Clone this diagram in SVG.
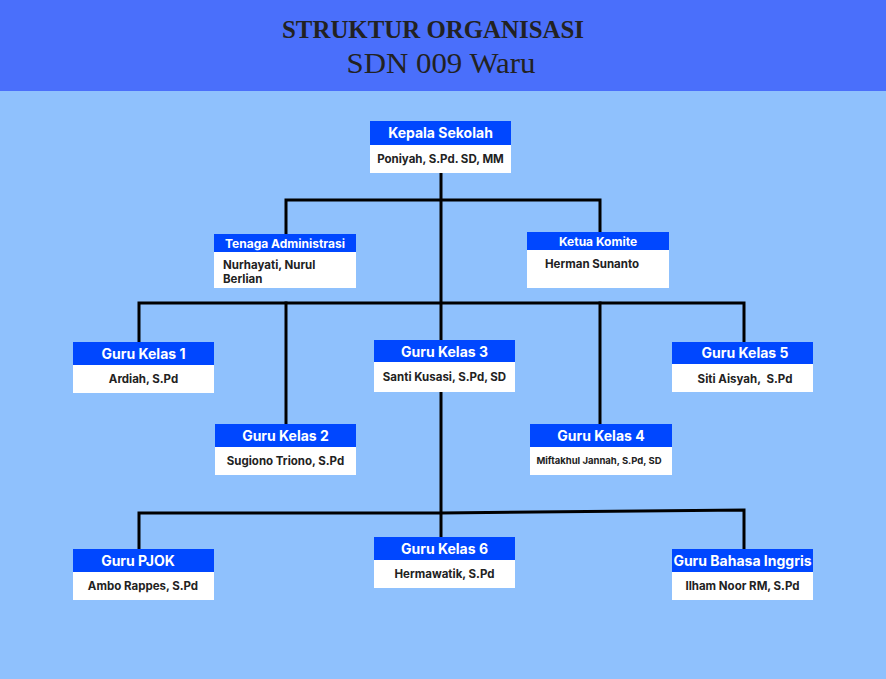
<svg xmlns="http://www.w3.org/2000/svg" width="886" height="679" viewBox="0 0 886 679">
<style>
.hd{fill:#0047FF}
.bd{fill:#FFFFFF}
.ht{font-family:Inter,"Liberation Sans",sans-serif;font-weight:700;font-size:14px;fill:#FFFFFF;text-anchor:middle}
.hs{font-size:12px}
.bt{font-family:Inter,"Liberation Sans",sans-serif;font-weight:700;font-size:11.5px;fill:#222222;text-anchor:middle}
.title{font-family:"Liberation Serif",serif;fill:#222222;text-anchor:middle}
.ln{stroke:#000000;stroke-width:3;fill:none;stroke-linecap:square}
</style>
<rect x="0" y="0" width="886" height="679" fill="#8FC1FD"/>
<rect x="0" y="0" width="886" height="91" fill="#4A6FFB"/>
<text class="title" x="433" y="38" font-size="25" font-weight="700" textLength="302" lengthAdjust="spacingAndGlyphs">STRUKTUR ORGANISASI</text>
<text class="title" x="441" y="73" font-size="30" textLength="189" lengthAdjust="spacingAndGlyphs">SDN 009 Waru</text>
<g id="connectors">
<path class="ln" d="M441 173 V340"/>
<path class="ln" d="M286 234 V200 H600 V232"/>
<path class="ln" d="M139 342 V303 H744 V342"/>
<path class="ln" d="M286 303 V424"/>
<path class="ln" d="M600 303 V424"/>
<path class="ln" d="M441 392 V537"/>
<path class="ln" d="M139 549 V513 H441 L744 510 V549"/>
</g>
<g id="kepala">
<rect class="hd" x="370" y="121" width="141" height="24"/><rect class="bd" x="370" y="145" width="141" height="28"/>
<text class="ht" x="440.5" y="138">Kepala Sekolah</text>
<text class="bt" x="440.5" y="163">Poniyah, S.Pd. SD, MM</text>
</g>
<g id="tenaga">
<rect class="hd" x="214" y="234" width="142" height="18"/><rect class="bd" x="214" y="252" width="142" height="36"/>
<text class="ht hs" x="285" y="247.5">Tenaga Administrasi</text>
<text class="bt" x="223" y="269" style="text-anchor:start">Nurhayati, Nurul</text>
<text class="bt" x="223" y="283" style="text-anchor:start">Berlian</text>
</g>
<g id="komite">
<rect class="hd" x="527" y="232" width="142" height="18"/><rect class="bd" x="527" y="250" width="142" height="38"/>
<text class="ht hs" x="598" y="245.5">Ketua Komite</text>
<text class="bt" x="545" y="268" style="text-anchor:start">Herman Sunanto</text>
</g>
<g id="gk1">
<rect class="hd" x="73" y="342" width="141" height="23"/><rect class="bd" x="73" y="365" width="141" height="28"/>
<text class="ht" x="143.5" y="358.5">Guru Kelas 1</text>
<text class="bt" x="143.5" y="383">Ardiah, S.Pd</text>
</g>
<g id="gk3">
<rect class="hd" x="374" y="340" width="141" height="22"/><rect class="bd" x="374" y="362" width="141" height="30"/>
<text class="ht" x="444.5" y="356.5">Guru Kelas 3</text>
<text class="bt" x="444.5" y="381">Santi Kusasi, S.Pd, SD</text>
</g>
<g id="gk5">
<rect class="hd" x="672" y="342" width="141" height="22"/><rect class="bd" x="672" y="364" width="141" height="28"/>
<text class="ht" x="745" y="358">Guru Kelas 5</text>
<text class="bt" x="745" y="383">Siti Aisyah,&#160; S.Pd</text>
</g>
<g id="gk2">
<rect class="hd" x="215" y="424" width="141" height="23"/><rect class="bd" x="215" y="447" width="141" height="28"/>
<text class="ht" x="285.5" y="440.5">Guru Kelas 2</text>
<text class="bt" x="285.5" y="465">Sugiono Triono, S.Pd</text>
</g>
<g id="gk4">
<rect class="hd" x="530" y="424" width="142" height="23"/><rect class="bd" x="530" y="447" width="142" height="28"/>
<text class="ht" x="601" y="440.5">Guru Kelas 4</text>
<text class="bt" x="599" y="464" style="font-size:9.5px">Miftakhul Jannah, S.Pd, SD</text>
</g>
<g id="pjok">
<rect class="hd" x="73" y="549" width="141" height="23"/><rect class="bd" x="73" y="572" width="141" height="28"/>
<text class="ht" x="138" y="565.5">Guru PJOK</text>
<text class="bt" x="143" y="590">Ambo Rappes, S.Pd</text>
</g>
<g id="gk6">
<rect class="hd" x="374" y="537" width="141" height="23"/><rect class="bd" x="374" y="560" width="141" height="28"/>
<text class="ht" x="444.5" y="553.5">Guru Kelas 6</text>
<text class="bt" x="444.5" y="578">Hermawatik, S.Pd</text>
</g>
<g id="bing">
<rect class="hd" x="672" y="549" width="141" height="23"/><rect class="bd" x="672" y="572" width="141" height="28"/>
<text class="ht" x="742.5" y="565.5">Guru Bahasa Inggris</text>
<text class="bt" x="742.5" y="590">Ilham Noor RM, S.Pd</text>
</g>
</svg>
